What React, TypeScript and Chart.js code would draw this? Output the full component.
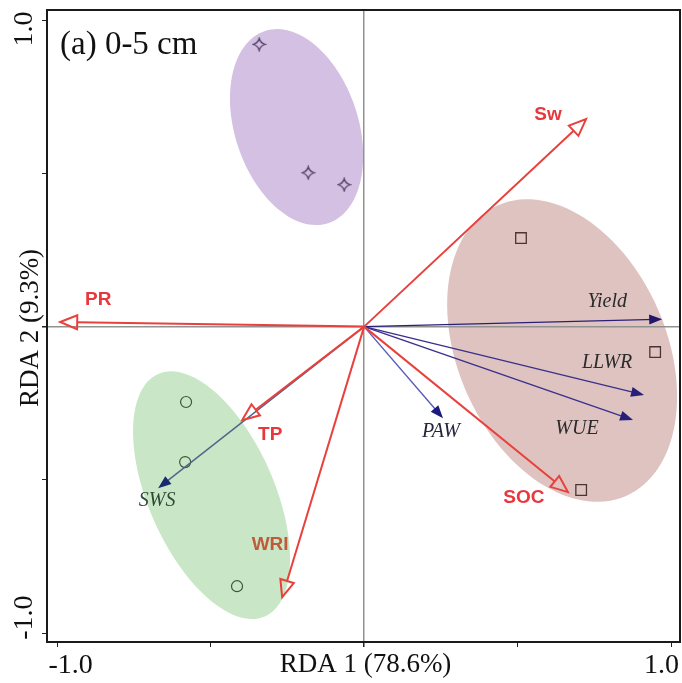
import React, { useEffect, useRef } from 'react';
import { Chart, registerables } from 'chart.js';

Chart.register(...registerables);

// ---------- data ----------
const tickValues = [-1, -0.5, 0, 0.5, 1];
const xTickLabels = ['-1.0', '', '', '', '1.0'];
const yTickLabels = ['-1.0', '', '', '', '1.0'];
const xTitle = 'RDA 1 (78.6%)';
const yTitle = 'RDA 2 (9.3%)';
const panelTitle = '(a) 0-5 cm';

// environmental variables (red arrows)
const envNames = ['Sw', 'PR', 'TP', 'WRI', 'SOC'];
const envX = [0.723, -0.99, -0.397, -0.267, 0.664];
const envY = [0.677, 0.015, -0.305, -0.883, -0.54];

// response variables (navy arrows)
const respNames = ['Yield', 'LLWR', 'WUE', 'PAW', 'SWS'];
const respX = [0.971, 0.912, 0.876, 0.257, -0.671];
const respY = [0.024, -0.223, -0.305, -0.299, -0.527];

// samples
const starX = [-0.342, -0.182, -0.065];
const starY = [0.921, 0.502, 0.463];
const squareX = [0.511, 0.948, 0.707];
const squareY = [0.289, -0.083, -0.533];
const circleX = [-0.58, -0.583, -0.414];
const circleY = [-0.246, -0.442, -0.847];

// group ellipses: centre, semi-axes, rotation (deg)
const ellipseCX = [-0.22, 0.645, -0.497];
const ellipseCY = [0.651, -0.078, -0.55];
const ellipseA = [0.33, 0.518, 0.432];
const ellipseB = [0.201, 0.34, 0.205];
const ellipseAngle = [-71.8, -66.3, -66.3];

// ---------- styles ----------
const ellipseColors = ['#d4c0e3', '#dfc3c1', '#c9e7c6'];
const envLineColor = '#e8413c';
const envLabelColors = ['#e8383d', '#e8383d', '#e8383d', '#bf5a3a', '#e8383d'];
const envLabelOffsets = [[-38, -4], [38, -22], [28, 15], [-12, -52], [-44, 6]];
const respLineColors = ['#2a1f78', '#3a2f8c', '#3a2f8c', '#5a5ab8', '#4f6488'];
const respHeadColors = ['#22186a', '#2a1f78', '#2a1f78', '#1c1a80', '#1a2a6e'];
const respLabelColors = ['#2b2b2b', '#2b2b2b', '#2b2b2b', '#24243a', '#2e4a34'];
const respLabelOffsets = [[-55, -18], [-37, -32], [-56, 9], [-2, 13], [-1, 13]];
const SERIF = '"Liberation Serif", "Times New Roman", serif';
const SANS = '"Liberation Sans", Arial, sans-serif';

function makeStar(color: string) {
  const c = document.createElement('canvas');
  const s = 15;
  c.width = s;
  c.height = s;
  const g = c.getContext('2d')!;
  const m = s / 2;
  const r = 6;
  const k = 1.2;
  g.strokeStyle = color;
  g.lineWidth = 1.2;
  g.beginPath();
  g.moveTo(m, m - r);
  g.quadraticCurveTo(m + k, m - k, m + r, m);
  g.quadraticCurveTo(m + k, m + k, m, m + r);
  g.quadraticCurveTo(m - k, m + k, m - r, m);
  g.quadraticCurveTo(m - k, m - k, m, m - r);
  g.closePath();
  g.stroke();
  return c;
}

const ellipsePlugin = {
  id: 'ellipses',
  beforeDraw(chart: any) {
    const { ctx, scales } = chart;
    const xs = scales.x;
    const ys = scales.y;
    ctx.save();
    for (let i = 0; i < ellipseCX.length; i++) {
      const th = (ellipseAngle[i] * Math.PI) / 180;
      const ux = Math.cos(th), uy = Math.sin(th);
      const vx = -Math.sin(th), vy = Math.cos(th);
      ctx.beginPath();
      for (let k = 0; k <= 120; k++) {
        const t = (k / 120) * Math.PI * 2;
        const dx = ellipseA[i] * Math.cos(t) * ux + ellipseB[i] * Math.sin(t) * vx;
        const dy = ellipseA[i] * Math.cos(t) * uy + ellipseB[i] * Math.sin(t) * vy;
        const px = xs.getPixelForValue(ellipseCX[i] + dx);
        const py = ys.getPixelForValue(ellipseCY[i] + dy);
        if (k === 0) ctx.moveTo(px, py);
        else ctx.lineTo(px, py);
      }
      ctx.closePath();
      ctx.fillStyle = ellipseColors[i];
      ctx.fill();
    }
    ctx.restore();
  },
};

function arrow(ctx: any, x0: number, y0: number, x1: number, y1: number, L: number, W: number, lineColor: string, headColor: string, lw: number, open: boolean) {
  const len = Math.hypot(x1 - x0, y1 - y0);
  const dx = (x1 - x0) / len, dy = (y1 - y0) / len;
  const bx = x1 - dx * L, by = y1 - dy * L;
  ctx.strokeStyle = lineColor;
  ctx.lineWidth = lw;
  ctx.beginPath();
  ctx.moveTo(x0, y0);
  ctx.lineTo(open ? bx : x1 - dx * L * 0.5, open ? by : y1 - dy * L * 0.5);
  ctx.stroke();
  ctx.beginPath();
  ctx.moveTo(x1, y1);
  ctx.lineTo(bx - dy * W, by + dx * W);
  ctx.lineTo(bx + dy * W, by - dx * W);
  ctx.closePath();
  if (open) {
    ctx.strokeStyle = headColor;
    ctx.lineWidth = 2;
    ctx.lineJoin = 'miter';
    ctx.stroke();
  } else {
    ctx.fillStyle = headColor;
    ctx.fill();
  }
}

const arrowPlugin = {
  id: 'arrows',
  afterDatasetsDraw(chart: any) {
    const { ctx, scales } = chart;
    const xs = scales.x;
    const ys = scales.y;
    const ox = xs.getPixelForValue(0);
    const oy = ys.getPixelForValue(0);
    ctx.save();
    for (let i = 0; i < respNames.length; i++) {
      const px = xs.getPixelForValue(respX[i]);
      const py = ys.getPixelForValue(respY[i]);
      arrow(ctx, ox, oy, px, py, 13, 5, respLineColors[i], respHeadColors[i], 1.4, false);
    }
    for (let i = 0; i < envNames.length; i++) {
      const px = xs.getPixelForValue(envX[i]);
      const py = ys.getPixelForValue(envY[i]);
      arrow(ctx, ox, oy, px, py, 17, 7, envLineColor, envLineColor, 2, true);
    }
    ctx.textAlign = 'center';
    ctx.textBaseline = 'middle';
    ctx.font = `bold 19px ${SANS}`;
    for (let i = 0; i < envNames.length; i++) {
      const px = xs.getPixelForValue(envX[i]);
      const py = ys.getPixelForValue(envY[i]);
      ctx.fillStyle = envLabelColors[i];
      ctx.fillText(envNames[i], px + envLabelOffsets[i][0], py + envLabelOffsets[i][1]);
    }
    ctx.font = `italic 20px ${SERIF}`;
    for (let i = 0; i < respNames.length; i++) {
      const px = xs.getPixelForValue(respX[i]);
      const py = ys.getPixelForValue(respY[i]);
      ctx.fillStyle = respLabelColors[i];
      ctx.fillText(respNames[i], px + respLabelOffsets[i][0], py + respLabelOffsets[i][1]);
    }
    ctx.restore();
  },
  afterDraw(chart: any) {
    const { ctx, chartArea, scales } = chart;
    const xs = scales.x;
    const ys = scales.y;
    ctx.save();
    // frame
    ctx.strokeStyle = '#1a1a1a';
    ctx.lineWidth = 2;
    ctx.strokeRect(chartArea.left, chartArea.top, chartArea.right - chartArea.left, chartArea.bottom - chartArea.top);
    ctx.fillStyle = '#111';
    // panel title
    ctx.font = `33px ${SERIF}`;
    ctx.textAlign = 'left';
    ctx.textBaseline = 'alphabetic';
    ctx.fillText(panelTitle, chartArea.left + 13, chartArea.top + 44);
    // x tick labels
    ctx.font = `28px ${SERIF}`;
    ctx.textAlign = 'center';
    tickValues.forEach((v, i) => {
      if (!xTickLabels[i]) return;
      const shift = v < 0 ? 13.5 : -9.5;
      ctx.fillText(xTickLabels[i], xs.getPixelForValue(v) + shift, chartArea.bottom + 31);
    });
    // y tick labels (rotated)
    tickValues.forEach((v, i) => {
      if (!yTickLabels[i]) return;
      const shift = v < 0 ? -15.5 : 9;
      ctx.save();
      ctx.translate(32, ys.getPixelForValue(v) + shift);
      ctx.rotate(-Math.PI / 2);
      ctx.fillText(yTickLabels[i], 0, 0);
      ctx.restore();
    });
    // axis titles
    ctx.font = `27px ${SERIF}`;
    ctx.fillText(xTitle, (chartArea.left + chartArea.right) / 2 + 2, chartArea.bottom + 30);
    ctx.save();
    ctx.translate(38, (chartArea.top + chartArea.bottom) / 2 + 2);
    ctx.rotate(-Math.PI / 2);
    ctx.fillText(yTitle, 0, 0);
    ctx.restore();
    ctx.restore();
  },
};

export default function App() {
  const ref = useRef<HTMLCanvasElement | null>(null);
  useEffect(() => {
    document.body.style.margin = '0';
    const canvas = ref.current!;
    const star = makeStar('#4b3b5e');
    const gridOpts = {
      color: (c: any) => (c.tick && c.tick.value === 0 ? '#929292' : 'rgba(0,0,0,0)'),
      lineWidth: (c: any) => (c.tick && c.tick.value === 0 ? 1.5 : 1),
      tickColor: '#222',
      tickLength: 5,
      drawTicks: true,
    };
    const chart = new Chart(canvas, {
      type: 'scatter',
      data: {
        datasets: [
          {
            data: starX.map((x, i) => ({ x, y: starY[i] })),
            pointStyle: star as any,
            pointRadius: 7,
          },
          {
            data: squareX.map((x, i) => ({ x, y: squareY[i] })),
            pointStyle: 'rect',
            pointRadius: 7.5,
            borderColor: '#4a3434',
            backgroundColor: 'rgba(0,0,0,0)',
            borderWidth: 1.3,
          },
          {
            data: circleX.map((x, i) => ({ x, y: circleY[i] })),
            pointStyle: 'circle',
            pointRadius: 5.5,
            borderColor: '#3b573b',
            backgroundColor: 'rgba(0,0,0,0)',
            borderWidth: 1.2,
          },
        ],
      },
      options: {
        responsive: false,
        animation: false,
        devicePixelRatio: 1,
        layout: { autoPadding: false, padding: { left: 42, top: 10, right: 2, bottom: 36 } },
        plugins: { legend: { display: false }, tooltip: { enabled: false } },
        scales: {
          x: {
            type: 'linear',
            min: -1.033,
            max: 1.029,
            afterBuildTicks: (s: any) => {
              s.ticks = tickValues.map((v) => ({ value: v }));
            },
            ticks: { display: false },
            grid: gridOpts as any,
            border: { display: false },
          },
          y: {
            type: 'linear',
            min: -1.029,
            max: 1.033,
            afterBuildTicks: (s: any) => {
              s.ticks = tickValues.map((v) => ({ value: v }));
            },
            ticks: { display: false },
            grid: gridOpts as any,
            border: { display: false },
          },
        },
      },
      plugins: [ellipsePlugin, arrowPlugin],
    });
    return () => chart.destroy();
  }, []);
  return <canvas ref={ref} width={682} height={683} style={{ display: 'block' }} />;
}
